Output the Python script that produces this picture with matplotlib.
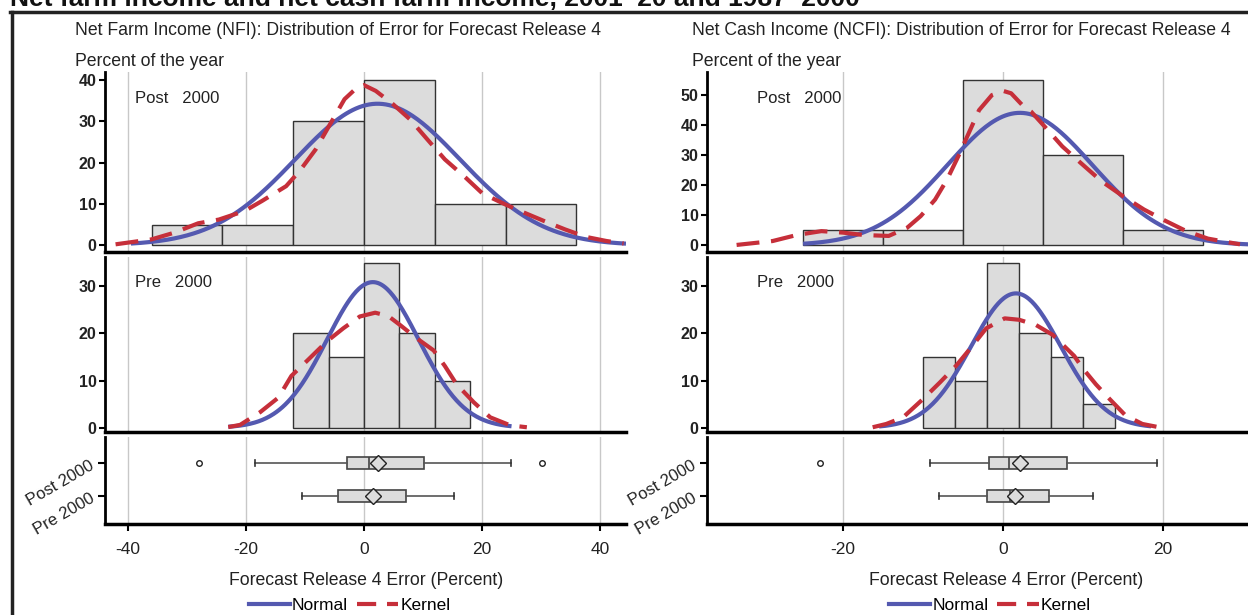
import matplotlib.pyplot as plt
import numpy as np

plt.rcParams['font.family'] = ['Liberation Sans', 'DejaVu Sans']
plt.rcParams['axes.unicode_minus'] = False

# histogram bin edges and percent of years per bin
nfi_post_edges = [-36, -24, -12, 0, 12, 24, 36]
nfi_post_pct = [5, 5, 30, 40, 10, 10]
nfi_pre_edges = [-12, -6, 0, 6, 12, 18]
nfi_pre_pct = [20, 15, 35, 20, 10]
ncfi_post_edges = [-25, -15, -5, 5, 15, 25]
ncfi_post_pct = [5, 5, 55, 30, 5]
ncfi_pre_edges = [-10, -6, -2, 2, 6, 10, 14]
ncfi_pre_pct = [15, 10, 35, 20, 15, 5]

# normal fit (mean, std dev) and the x span it is drawn over
nfi_post_fit = (2.3, 13.96)
nfi_pre_fit = (1.5, 7.75)
ncfi_post_fit = (2.1, 9.05)
ncfi_pre_fit = (1.6, 5.6)
nfi_post_span = (-39.5, 44.4)
nfi_pre_span = (-23, 25)
ncfi_post_span = (-25, 31)
ncfi_pre_span = (-15.5, 18.5)

# kernel density estimates, percent
nfi_post_kx = [-42.1, -36, -32.2, -28.1, -24.6, -20.2, -17.3, -13.2, -10.9, -8.2, -5.6, -3.3,
               -1.2, 0, 2, 4.9, 7.8, 10.7, 13.7, 17.2, 20.1, 23.9, 27.1, 30.6, 34.1, 37.6, 41.1, 44]
nfi_post_ky = [0.2, 1.4, 3.0, 5.3, 6.2, 8.3, 10.7, 14.3, 18, 23.2, 29.7, 35.4,
               38.2, 38.8, 37.4, 34.2, 30.5, 25.7, 20.8, 16.4, 12.5, 9.9, 7.9, 5.8, 3.8, 2.0, 1.0, 0.4]
nfi_pre_kx = [-23, -21, -17.6, -14.5, -12.3, -9.4, -6.3, -3.5, -0.7, 1.9, 4.1, 6.1,
              8.9, 11.8, 13.7, 15.7, 18.6, 21.4, 24.8, 27.6]
nfi_pre_ky = [0.14, 0.6, 3.3, 6.4, 11.0, 14.5, 18.3, 21.1, 23.6, 24.4, 23.7, 21.8,
              19.0, 16.4, 13.1, 9.2, 5.4, 2.2, 0.5, 0.1]
ncfi_post_kx = [-33.3, -28.8, -25.8, -22.7, -20, -17.4, -14.3, -12, -10.3, -8.5, -7, -5.6,
                -4.3, -3, -1.4, 0, 1, 2.6, 3.5, 5.2, 7.4, 9.7, 12.3, 15, 17.6, 20.3, 22.9, 25.6, 29.6]
ncfi_post_ky = [0.1, 1.4, 3.4, 4.7, 4.2, 3.4, 3.1, 5.8, 9.7, 15.2, 21.9, 29.6,
                37.3, 45, 50, 51.4, 50.6, 46.1, 44.5, 39.5, 32.9, 27.4, 21.3, 16.3, 11.9, 8.1, 4.7, 2.2, 0.3]
ncfi_pre_kx = [-16.3, -14.6, -12.5, -10, -7.9, -5.9, -4.2, -2.1, 0.2, 2, 4.1, 6.2,
               8.9, 9.9, 11.6, 13.3, 15.3, 17.4, 19.5]
ncfi_pre_ky = [0.1, 0.8, 2.2, 6.1, 9.6, 13.1, 16.6, 21.1, 23.2, 22.9, 21.8, 19.7,
               15.2, 12.7, 9.2, 6.1, 2.6, 0.8, 0.1]

# box plot summaries: Post 2000, Pre 2000
groups = ['Post 2000', 'Pre 2000']
nfi_box = [
    dict(whislo=-18.4, q1=-2.8, med=0.9, q3=10.2, whishi=24.9, mean=2.3, fliers=[-28, 30.2]),
    dict(whislo=-10.5, q1=-4.4, med=2.1, q3=7.1, whishi=15.2, mean=1.5, fliers=[]),
]
ncfi_box = [
    dict(whislo=-9.1, q1=-1.8, med=0.75, q3=7.95, whishi=19.25, mean=2.1, fliers=[-22.9]),
    dict(whislo=-8.05, q1=-2.0, med=0.9, q3=5.7, whishi=11.25, mean=1.5, fliers=[]),
]

BLUE = '#5459b0'
RED = '#c62f3a'
BAR = '#dcdcdc'
GRID = '#c8c8c8'

fig = plt.figure(figsize=(12.48, 6.15), dpi=100)


def style(ax, xlim, xticks):
    ax.set_xlim(*xlim)
    ax.set_xticks(xticks)
    for x in xticks:
        ax.axvline(x, color=GRID, lw=1, zorder=0)
    for s in ['top', 'right']:
        ax.spines[s].set_visible(False)
    ax.spines['left'].set_linewidth(2)
    ax.spines['bottom'].set_linewidth(2.5)
    ax.tick_params(axis='y', length=4, width=1.5, labelsize=11.5, pad=2,
                   labelcolor='#222222')
    for lab in ax.get_yticklabels():
        lab.set_fontweight('bold')


def hist_panel(ax, edges, pct, fit, span, kx, ky, ylim, yticks, label, lx, xlim, xticks):
    edges = np.array(edges, float)
    width = np.diff(edges)
    ax.bar(edges[:-1], pct, width=width, align='edge', color=BAR,
           edgecolor='#333333', linewidth=1, zorder=2)
    mu, sd = fit
    xs = np.linspace(span[0], span[1], 300)
    ys = 100 * width[0] * np.exp(-0.5 * ((xs - mu) / sd) ** 2) / (sd * np.sqrt(2 * np.pi))
    ax.plot(xs, ys, color=BLUE, lw=3, zorder=4, solid_capstyle='butt')
    ax.plot(kx, ky, color=RED, lw=3, dashes=(5.5, 2.8), zorder=5)
    ax.set_ylim(*ylim)
    ax.set_yticks(yticks)
    style(ax, xlim, xticks)
    ax.tick_params(axis='x', length=0, labelbottom=False)
    ax.text(lx, 0.855, label, transform=ax.transAxes, fontsize=12,
            color='#222222', va='center')


def box_panel(ax, stats, xlim, xticks):
    for s, lab in zip(stats, groups):
        s['label'] = lab
    ax.bxp(stats, positions=[0, 1], orientation='horizontal', widths=0.36,
           showmeans=True, patch_artist=True,
           boxprops=dict(facecolor=BAR, edgecolor='#444444', linewidth=1.2),
           medianprops=dict(color='#444444', linewidth=1.2),
           whiskerprops=dict(color='#555555', linewidth=1.2),
           capprops=dict(color='#333333', linewidth=1.2),
           meanprops=dict(marker='D', markersize=8, markerfacecolor=BAR,
                          markeredgecolor='#222222', markeredgewidth=1),
           flierprops=dict(marker='o', markersize=4, markerfacecolor='white',
                           markeredgecolor='#222222', markeredgewidth=1), zorder=3)
    ax.set_ylim(1.85, -0.79)
    style(ax, xlim, xticks)
    ax.set_yticks([0, 1])
    ax.set_yticklabels(groups, rotation=30, ha='right', rotation_mode='anchor',
                       fontsize=12, fontweight='normal')
    ax.tick_params(axis='x', length=5, width=1.5, labelsize=12.5, pad=8,
                   labelcolor='#222222')
    ax.tick_params(axis='y', length=5, width=1.5, pad=4)


left_x = (0.0841, 0.5016 - 0.0841)
right_x = (0.5665, 1.0 - 0.5665)
rows = [(0.590, 0.883), (0.2976, 0.582), (0.148, 0.289)]

nfi_xlim = (-43.9, 44.4)
ncfi_xlim = (-37, 30.6)
nfi_ticks = [-40, -20, 0, 20, 40]
ncfi_ticks = [-20, 0, 20]

axes = {}
for col, (x0, w) in (('l', left_x), ('r', right_x)):
    for i, (b, t) in enumerate(rows):
        axes[col, i] = fig.add_axes([x0, b, w, t - b])

hist_panel(axes['l', 0], nfi_post_edges, nfi_post_pct, nfi_post_fit, nfi_post_span,
           nfi_post_kx, nfi_post_ky, (-1.7, 42), [0, 10, 20, 30, 40], 'Post   2000', 0.058,
           nfi_xlim, nfi_ticks)
hist_panel(axes['l', 1], nfi_pre_edges, nfi_pre_pct, nfi_pre_fit, nfi_pre_span,
           nfi_pre_kx, nfi_pre_ky, (-0.9, 36.2), [0, 10, 20, 30], 'Pre   2000', 0.058,
           nfi_xlim, nfi_ticks)
box_panel(axes['l', 2], nfi_box, nfi_xlim, nfi_ticks)

hist_panel(axes['r', 0], ncfi_post_edges, ncfi_post_pct, ncfi_post_fit, ncfi_post_span,
           ncfi_post_kx, ncfi_post_ky, (-2.3, 57.7), [0, 10, 20, 30, 40, 50], 'Post   2000',
           0.092, ncfi_xlim, ncfi_ticks)
hist_panel(axes['r', 1], ncfi_pre_edges, ncfi_pre_pct, ncfi_pre_fit, ncfi_pre_span,
           ncfi_pre_kx, ncfi_pre_ky, (-0.9, 36.2), [0, 10, 20, 30], 'Pre   2000', 0.092,
           ncfi_xlim, ncfi_ticks)
box_panel(axes['r', 2], ncfi_box, ncfi_xlim, ncfi_ticks)

# headings and axis captions
txt = dict(color='#222222', fontsize=12.7)
fig.text(0.060, 0.9496, 'Net Farm Income (NFI): Distribution of Error for Forecast Release 4',
         va='center', **txt)
fig.text(0.5545, 0.9496, 'Net Cash Income (NCFI): Distribution of Error for Forecast Release 4',
         va='center', **txt)
fig.text(0.060, 0.9008, 'Percent of the year', va='center', **txt)
fig.text(0.5545, 0.9008, 'Percent of the year', va='center', **txt)
fig.text(0.293, 0.056, 'Forecast Release 4 Error (Percent)', ha='center', va='center', **txt)
fig.text(0.806, 0.056, 'Forecast Release 4 Error (Percent)', ha='center', va='center', **txt)

# legends
for cx in (0.28, 0.793):
    h1, = plt.plot([], [], color=BLUE, lw=3)
    h2, = plt.plot([], [], color=RED, lw=3, dashes=(4.6, 2.6))
    fig.legend([h1, h2], ['Normal', 'Kernel'], loc='center', bbox_to_anchor=(cx, 0.015),
               ncol=2, frameon=False, fontsize=12.5, handlelength=2.4,
               handletextpad=0.1, columnspacing=0.5, borderaxespad=0, borderpad=0)

# cropped report heading and frame
fig.text(0.008, 0.990, 'Net farm income and net cash farm income, 2001\u201320 and 1987\u20132000',
         fontsize=19, fontweight='bold', va='baseline', color='#111111')
fig.add_artist(plt.Line2D([0.008, 1.0], [0.980, 0.980], color='#222222', lw=2.5,
                          transform=fig.transFigure))
fig.add_artist(plt.Line2D([0.0095, 0.0095], [0.0, 0.980], color='#222222', lw=2.5,
                          transform=fig.transFigure))

fig.savefig('out.png', dpi=100)
